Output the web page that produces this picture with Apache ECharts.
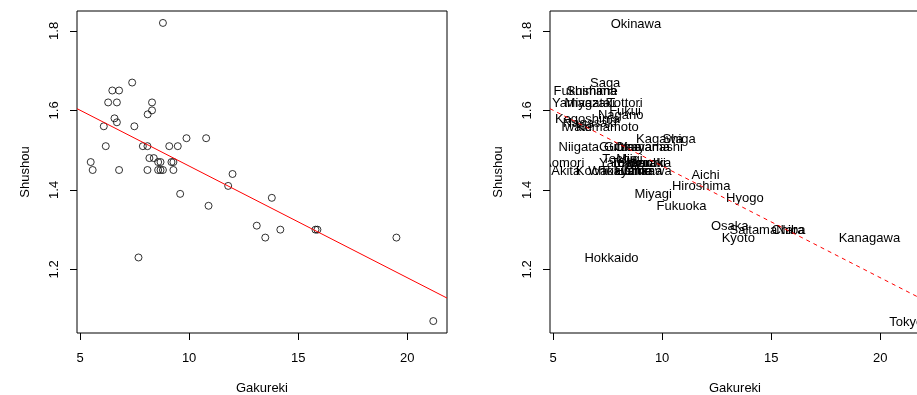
<!DOCTYPE html>
<html>
<head>
<meta charset="utf-8">
<script src="https://cdn.jsdelivr.net/npm/echarts@6/dist/echarts.min.js"></script>
<style>
  html, body { margin: 0; padding: 0; background: #fff; }
  #chart { width: 917px; height: 395px; }
</style>
</head>
<body>
<div id="chart"></div>
<script>
// prefecture data
const prefectures = [
  "Hokkaido", "Aomori", "Iwate", "Miyagi", "Akita", "Yamagata", "Fukushima",
  "Ibaraki", "Tochigi", "Gunma", "Saitama", "Chiba", "Tokyo", "Kanagawa",
  "Niigata", "Toyama", "Ishikawa", "Fukui", "Yamanashi", "Nagano", "Gifu",
  "Shizuoka", "Aichi", "Mie", "Shiga", "Kyoto", "Osaka", "Hyogo", "Nara",
  "Wakayama", "Tottori", "Shimane", "Okayama", "Hiroshima", "Yamaguchi",
  "Tokushima", "Kagawa", "Ehime", "Kochi", "Fukuoka", "Saga", "Nagasaki",
  "Kumamoto", "Oita", "Miyazaki", "Kagoshima", "Okinawa"
];
const gakureki = [
  7.68, 5.49, 6.09, 9.59, 5.58, 6.29, 6.48,
  9.28, 8.18, 8.09, 14.18, 15.79, 21.19, 19.50,
  6.18, 8.69, 9.28, 8.30, 9.48, 8.10, 7.88,
  9.19, 11.99, 8.38, 10.78, 13.49, 13.10, 13.79, 15.88,
  8.09, 8.30, 6.79, 9.09, 11.79, 8.58,
  8.58, 9.88, 8.69, 6.79, 10.89, 7.39, 6.69,
  7.49, 8.80, 6.69, 6.58, 8.80
];
const shushou = [
  1.23, 1.47, 1.56, 1.39, 1.45, 1.62, 1.65,
  1.47, 1.48, 1.51, 1.30, 1.30, 1.07, 1.28,
  1.51, 1.47, 1.45, 1.60, 1.51, 1.59, 1.51,
  1.47, 1.44, 1.48, 1.53, 1.28, 1.31, 1.38, 1.30,
  1.45, 1.62, 1.65, 1.51, 1.41, 1.47,
  1.45, 1.53, 1.45, 1.45, 1.36, 1.67, 1.57,
  1.56, 1.45, 1.62, 1.58, 1.82
];
const xTicks = [5, 10, 15, 20];
const yTicks = [1.2, 1.4, 1.6, 1.8];
// regression line (abline)
const fitIntercept = 1.741;
const fitSlope = -0.0281;

const xRange = [4.862, 21.818];
const yRange = [1.04, 1.85];
const FONT = '"Liberation Sans", Arial, Helvetica, sans-serif';

const points = gakureki.map((x, i) => [x, shushou[i], prefectures[i]]);
const fitLine = xRange.map(x => [x, fitIntercept + fitSlope * x]);

function xAxisFor(idx) {
  return {
    gridIndex: idx, type: 'value', min: xRange[0], max: xRange[1],
    name: 'Gakureki', nameLocation: 'middle', nameGap: 49,
    nameTextStyle: { color: '#000', fontFamily: FONT, fontSize: 13 },
    axisLine: { show: false },
    axisTick: { show: true, inside: false, length: 7, customValues: xTicks,
                lineStyle: { color: '#000', width: 1 } },
    axisLabel: { customValues: xTicks, margin: 19, color: '#000',
                 fontFamily: FONT, fontSize: 13, formatter: v => String(v) },
    splitLine: { show: false }
  };
}
function yAxisFor(idx) {
  return {
    gridIndex: idx, type: 'value', min: yRange[0], max: yRange[1],
    name: 'Shushou', nameLocation: 'middle', nameGap: 45, nameRotate: 90,
    nameTextStyle: { color: '#000', fontFamily: FONT, fontSize: 13 },
    axisLine: { show: false },
    axisTick: { show: true, inside: false, length: 7, customValues: yTicks,
                lineStyle: { color: '#000', width: 1 } },
    axisLabel: { customValues: yTicks, margin: 16, rotate: 90, color: '#000',
                 fontFamily: FONT, fontSize: 13, formatter: v => v.toFixed(1) },
    splitLine: { show: false }
  };
}

const chart = echarts.init(document.getElementById('chart'), null, { renderer: 'canvas' });
chart.setOption({
  animation: false,
  backgroundColor: '#fff',
  grid: [
    { left: 77, top: 11, width: 370, height: 322, show: true, containLabel: false,
      outerBoundsMode: 'none',
      borderColor: '#000', borderWidth: 1, backgroundColor: 'transparent' },
    { left: 550, top: 11, width: 370, height: 322, show: true, containLabel: false,
      outerBoundsMode: 'none',
      borderColor: '#000', borderWidth: 1, backgroundColor: 'transparent' }
  ],
  xAxis: [xAxisFor(0), xAxisFor(1)],
  yAxis: [yAxisFor(0), yAxisFor(1)],
  series: [
    {
      type: 'scatter', xAxisIndex: 0, yAxisIndex: 0,
      data: points, symbol: 'circle', symbolSize: 7,
      itemStyle: { color: 'rgba(0,0,0,0)', borderColor: '#000', borderWidth: 1 },
      emphasis: { disabled: true }, z: 2
    },
    {
      type: 'line', xAxisIndex: 0, yAxisIndex: 0, data: fitLine,
      symbol: 'none', lineStyle: { color: '#ff0000', width: 1 }, z: 3
    },
    {
      type: 'custom', xAxisIndex: 1, yAxisIndex: 1, clip: true,
      data: points,
      renderItem: function (params, api) {
        const p = api.coord([api.value(0), api.value(1)]);
        return {
          type: 'text', x: p[0], y: p[1] + 1,
          style: { text: prefectures[params.dataIndex], fill: '#000',
                   font: '13px ' + FONT, align: 'center', verticalAlign: 'middle' }
        };
      },
      z: 2
    },
    {
      type: 'line', xAxisIndex: 1, yAxisIndex: 1, data: fitLine,
      symbol: 'none', lineStyle: { color: '#ff0000', width: 1, type: [4, 4] }, z: 3
    }
  ]
});
</script>
</body>
</html>
